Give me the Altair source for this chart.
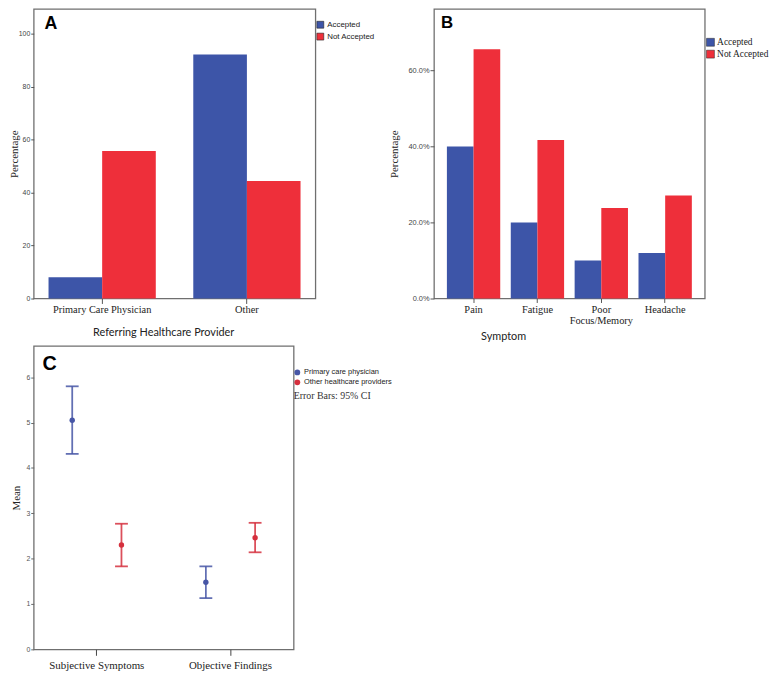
import altair as alt
import pandas as pd

# ---------------- data ----------------
status_order = ["Accepted", "Not Accepted"]
bar_colors = ["#3d55a8", "#ee2f3a"]

# Panel A
a_provider_order = ["Primary Care Physician", "Other"]
a_provider = ["Primary Care Physician", "Primary Care Physician", "Other", "Other"]
a_status = ["Accepted", "Not Accepted", "Accepted", "Not Accepted"]
a_percent = [8.0, 55.7, 92.2, 44.4]
a_ticks = [0, 20, 40, 60, 80, 100]

# Panel B
b_symptom_order = ["Pain", "Fatigue", "Poor Focus/Memory", "Headache"]
b_symptom = ["Pain", "Pain", "Fatigue", "Fatigue",
             "Poor Focus/Memory", "Poor Focus/Memory", "Headache", "Headache"]
b_status = ["Accepted", "Not Accepted"] * 4
b_percent = [40.0, 65.6, 20.0, 41.7, 10.0, 23.8, 12.0, 27.1]
b_ticks = [0, 20, 40, 60]

# Panel C
c_measure_order = ["Subjective Symptoms", "Objective Findings"]
c_group_order = ["Primary care physician", "Other healthcare providers"]
c_measure = ["Subjective Symptoms", "Subjective Symptoms", "Objective Findings", "Objective Findings"]
c_group = ["Primary care physician", "Other healthcare providers",
           "Primary care physician", "Other healthcare providers"]
c_mean = [5.05, 2.30, 1.48, 2.46]
c_low = [4.31, 1.83, 1.13, 2.14]
c_high = [5.80, 2.77, 1.83, 2.79]
c_ticks = [0, 1, 2, 3, 4, 5, 6]
c_colors = ["#4756a6", "#d5303e"]

panel_letters = ["A", "B", "C"]

SERIF = "Liberation Serif"
SANS = "Liberation Sans"


def letter_layer(letter, dx, base, size):
    return alt.Chart(pd.DataFrame({"label": [letter]})).mark_text(
        align="left", baseline="alphabetic", font=SANS, fontWeight="bold",
        fontSize=size, color="black").encode(
        text="label:N", x=alt.value(dx), y=alt.value(base))


# ---------------- Panel A ----------------
dfA = pd.DataFrame({"Provider": a_provider, "Status": a_status, "Percent": a_percent})
barsA = alt.Chart(dfA).mark_bar().encode(
    x=alt.X("Provider:N", sort=a_provider_order,
            scale=alt.Scale(paddingInner=0.259, paddingOuter=0.1025),
            axis=alt.Axis(title="Referring Healthcare Provider", titleFont="Lato",
                          titleFontSize=11, titleFontWeight="normal", titleColor="#222",
                          titleX=131, titleY=34, titleBaseline="middle", titleAlign="center",
                          labelFont=SERIF, labelFontSize=10.5, labelColor="#222",
                          labelAngle=0, tickSize=5, tickColor="#555", labelPadding=1,
                          domain=False)),
    xOffset=alt.XOffset("Status:N", sort=status_order,
                        scale=alt.Scale(paddingInner=0, paddingOuter=0)),
    y=alt.Y("Percent:Q", scale=alt.Scale(domain=[0, 109.4], nice=False),
            axis=alt.Axis(title="Percentage", values=a_ticks, titleFont=SERIF,
                          titleFontSize=11, titleFontWeight="normal", titleColor="#222",
                          titleX=-14, labelFont=SANS, labelFontSize=7, labelColor="#444",
                          tickSize=3, tickColor="#555", labelPadding=1, domain=False,
                          grid=False)),
    color=alt.Color("Status:N", scale=alt.Scale(domain=status_order, range=bar_colors),
                    legend=alt.Legend(orient="none", legendX=286, legendY=12, title=None,
                                      symbolType="square", symbolSize=49,
                                      symbolStrokeColor="#222", symbolStrokeWidth=0.6,
                                      labelFont=SANS, labelFontSize=8, labelColor="#222",
                                      labelOffset=3, rowPadding=2, padding=0)),
)
A = alt.layer(barsA, letter_layer(panel_letters[0], 11, 20, 18)).properties(width=285, height=293)

# ---------------- Panel B ----------------
dfB = pd.DataFrame({"Symptom": b_symptom, "Status": b_status, "Percent": b_percent})
barsB = alt.Chart(dfB).mark_bar().encode(
    x=alt.X("Symptom:N", sort=b_symptom_order,
            scale=alt.Scale(paddingInner=0.165, paddingOuter=0.2025),
            axis=alt.Axis(title="Symptom", titleFont="Lato",
                          titleFontSize=11, titleFontWeight="normal", titleColor="#222",
                          titleX=70, titleY=38, titleBaseline="middle", titleAlign="center",
                          labelFont=SERIF, labelFontSize=10.5, labelColor="#222",
                          labelAngle=0, tickSize=4, tickColor="#555", labelPadding=2,
                          labelLineHeight=11, labelExpr="split(datum.label, ' ')",
                          domain=False)),
    xOffset=alt.XOffset("Status:N", sort=status_order,
                        scale=alt.Scale(paddingInner=0, paddingOuter=0)),
    y=alt.Y("Percent:Q", scale=alt.Scale(domain=[0, 76.2], nice=False),
            axis=alt.Axis(title="Percentage", values=b_ticks, titleFont=SERIF,
                          titleFontSize=11, titleFontWeight="normal", titleColor="#222",
                          titleX=-35, labelFont=SANS, labelFontSize=7.5, labelColor="#444",
                          labelExpr="format(datum.value, '.1f') + '%'",
                          tickSize=4, tickColor="#555", labelPadding=1, domain=False,
                          grid=False)),
    color=alt.Color("Status:N", scale=alt.Scale(domain=status_order, range=bar_colors),
                    legend=alt.Legend(orient="none", legendX=275, legendY=29, title=None,
                                      symbolType="square", symbolSize=64,
                                      symbolStrokeColor="#222", symbolStrokeWidth=0.5,
                                      labelFont=SERIF, labelFontSize=9.5, labelColor="#222",
                                      labelOffset=2, rowPadding=1, padding=0)),
)
B = alt.layer(barsB, letter_layer(panel_letters[1], 7, 19, 17)).properties(width=274, height=293)

# ---------------- Panel C ----------------
dfC = pd.DataFrame({"Measure": c_measure, "Group": c_group, "Mean": c_mean,
                    "Low": c_low, "High": c_high})
c_yscale = alt.Scale(domain=[0, 6.69], nice=False)
c_yaxis = alt.Axis(title="Mean", values=c_ticks, titleFont=SERIF, titleFontSize=11,
                   titleFontWeight="normal", titleColor="#222", titleX=-12.5,
                   labelFont=SANS, labelFontSize=7, labelColor="#555",
                   tickSize=3, tickColor="#666", labelPadding=1, domain=False, grid=False)
c_legend = alt.Legend(orient="none", legendX=263, legendY=23,
                      title="Error Bars: 95% CI", titleOrient="bottom",
                      titleFont=SERIF, titleFontSize=10,
                      titleFontWeight="normal", titleColor="#333",
                      titlePadding=6, titleAnchor="start", titleAlign="left",
                      titleLimit=300, labelLimit=300,
                      labelFont=SANS, labelFontSize=7.5, labelColor="#222",
                      symbolType="circle", symbolSize=34, symbolStrokeWidth=0,
                      labelOffset=3, rowPadding=1, padding=0)
c_color = alt.Color("Group:N", scale=alt.Scale(domain=c_group_order, range=c_colors),
                    legend=c_legend)

baseC = alt.Chart(dfC).encode(
    x=alt.X("Measure:N", sort=c_measure_order,
            scale=alt.Scale(paddingInner=0.263, paddingOuter=0.104),
            axis=alt.Axis(title=None, labelFont=SERIF, labelFontSize=11, labelColor="#222",
                          labelAngle=0, tickSize=6, tickColor="#444", labelPadding=4,
                          domain=False)),
    xOffset=alt.XOffset("Group:N", sort=c_group_order,
                        scale=alt.Scale(paddingInner=0, paddingOuter=0)),
    color=c_color,
)
points = baseC.mark_point(filled=True, size=30, opacity=1).encode(
    y=alt.Y("Mean:Q", scale=c_yscale, axis=c_yaxis, title="Mean"))
rules = baseC.mark_rule(strokeWidth=1.8, opacity=0.85).encode(
    y=alt.Y("Low:Q", scale=c_yscale, axis=c_yaxis, title="Mean"), y2="High:Q")
caps_low = baseC.mark_tick(orient="horizontal", size=13, thickness=1.8, opacity=0.85).encode(
    y=alt.Y("Low:Q", scale=c_yscale, axis=c_yaxis, title="Mean"))
caps_high = baseC.mark_tick(orient="horizontal", size=13, thickness=1.8, opacity=0.85).encode(
    y=alt.Y("High:Q", scale=c_yscale, axis=c_yaxis, title="Mean"))
C = alt.layer(points, rules, caps_low, caps_high,
              letter_layer(panel_letters[2], 9, 24, 20)).properties(width=263, height=307)

chart = alt.concat(A, B, C, columns=2, bounds="flush",
                   spacing={"row": 48, "column": 120}).resolve_scale(
    color="independent", xOffset="independent", x="independent", y="independent"
).resolve_legend(color="independent").properties(
    padding={"left": 0, "top": -4, "right": 0, "bottom": 0},
    background="white").configure_view(stroke="#6f6f6f", strokeWidth=1.3)

chart.save("out.html", embed_options={"renderer": "svg", "actions": False})
